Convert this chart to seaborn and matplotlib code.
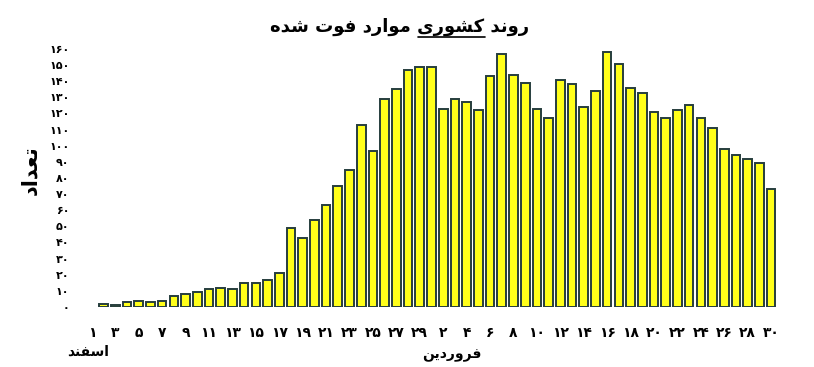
import matplotlib
matplotlib.use("Agg")
import matplotlib.pyplot as plt
import seaborn as sns
import pandas as pd

# ---------------- data ----------------
esfand_days = list(range(1, 30))
esfand_deaths = [0, 2, 1, 3, 4, 3, 4, 7, 8, 9, 11, 12, 11, 15, 15, 17, 21, 49, 43, 54,
                 63, 75, 85, 113, 97, 129, 135, 147, 149]
farvardin_days = list(range(1, 31))
farvardin_deaths = [149, 123, 129, 127, 122, 143, 157, 144, 139, 123, 117, 141, 138, 124,
                    134, 158, 151, 136, 133, 121, 117, 122, 125, 117, 111, 98, 94, 92, 89, 73]
y_ticks = list(range(0, 161, 10))

title_text = "روند کشوری موارد فوت شده"
ylabel_text = "تعداد"
esfand_text = "اسفند"
farvardin_text = "فروردین"

# ---------------- simple Arabic/Persian shaping ----------------
FORMS = {  # isolated, final, initial, medial
    "ا": ("\uFE8D", "\uFE8E", None, None),
    "د": ("\uFEA9", "\uFEAA", None, None),
    "ر": ("\uFEAD", "\uFEAE", None, None),
    "و": ("\uFEED", "\uFEEE", None, None),
    "ن": ("\uFEE5", "\uFEE6", "\uFEE7", "\uFEE8"),
    "ت": ("\uFE95", "\uFE96", "\uFE97", "\uFE98"),
    "ع": ("\uFEC9", "\uFECA", "\uFECB", "\uFECC"),
    "س": ("\uFEB1", "\uFEB2", "\uFEB3", "\uFEB4"),
    "ش": ("\uFEB5", "\uFEB6", "\uFEB7", "\uFEB8"),
    "ف": ("\uFED1", "\uFED2", "\uFED3", "\uFED4"),
    "م": ("\uFEE1", "\uFEE2", "\uFEE3", "\uFEE4"),
    "ه": ("\uFEE9", "\uFEEA", "\uFEEB", "\uFEEC"),
    "ک": ("\uFB8E", "\uFB8F", "\uFB90", "\uFB91"),
    "ی": ("\uFBFC", "\uFBFD", "\uFBFE", "\uFBFF"),
}


def shape(text):
    out = []
    n = len(text)
    for i, ch in enumerate(text):
        if ch not in FORMS:
            out.append(ch)
            continue
        prev = text[i - 1] if i > 0 else None
        nxt = text[i + 1] if i < n - 1 else None
        join_prev = prev in FORMS and FORMS[prev][2] is not None
        join_next = FORMS[ch][2] is not None and nxt in FORMS
        iso, fin, ini, med = FORMS[ch]
        if join_prev and join_next:
            out.append(med)
        elif join_prev:
            out.append(fin)
        elif join_next:
            out.append(ini)
        else:
            out.append(iso)
    return "".join(out)[::-1]


def fa_num(n):
    return str(n).translate(str.maketrans("0123456789", "۰۱۲۳۴۵۶۷۸۹"))


# ---------------- frame ----------------
cats = [f"E{d}" for d in esfand_days] + [f"F{d}" for d in farvardin_days]
values = esfand_deaths + farvardin_deaths
tick_labels = [fa_num(d) if d % 2 == 1 else "" for d in esfand_days] + \
              [fa_num(d) if d % 2 == 0 else "" for d in farvardin_days]
df = pd.DataFrame({"day": cats, "deaths": values})

sns.set_theme(style="white")
plt.rcParams["font.family"] = ["DejaVu Sans"]
plt.rcParams["text.color"] = "black"
plt.rcParams["xtick.color"] = "black"
plt.rcParams["ytick.color"] = "black"

fig = plt.figure(figsize=(8.14, 3.67), dpi=100)
ax = fig.add_axes([0.1057, 0.1635, 0.8488, 0.703])

sns.barplot(data=df, x="day", y="deaths", order=cats, color="#FFFF1A",
            edgecolor="#263d3d", linewidth=1.4, width=0.74, saturation=1, ax=ax)
for p in ax.patches:
    if p.get_height() == 0:
        p.set_visible(False)

ax.set_xlim(-0.5, len(cats) - 0.5)
ax.set_ylim(0, 160)
ax.set_yticks(y_ticks)
ax.set_yticklabels([fa_num(v) for v in y_ticks], fontsize=8, fontweight="bold")
ax.set_xticks(range(len(cats)))
ax.set_xticklabels(tick_labels, fontsize=10, fontweight="bold")
ax.tick_params(axis="both", length=0, pad=14)
ax.tick_params(axis="y", pad=12)
for s in ax.spines.values():
    s.set_visible(False)
ax.set_xlabel("")
ax.set_ylabel("")

# y label
fig.text(30 / 814, 1 - 170 / 367, shape(ylabel_text), rotation=90, ha="center", va="center",
         fontsize=15, fontweight="bold")

# month labels
fig.text(88 / 814, 1 - 352 / 367, shape(esfand_text), ha="center", va="center",
         fontsize=10, fontweight="bold")
fig.text(452 / 814, 1 - 355 / 367, shape(farvardin_text), ha="center", va="center",
         fontsize=10, fontweight="bold")

# title with underlined word
TFS = 13
title_shaped = shape(title_text)
t = fig.text(400 / 814, 1 - 27 / 367, title_shaped, ha="center", va="center",
             fontsize=TFS, fontweight="bold")
fig.canvas.draw()
r = fig.canvas.get_renderer()
bb = t.get_window_extent(r)


def width_of(s):
    tmp = fig.text(0, 0, s, fontsize=TFS, fontweight="bold")
    w = tmp.get_window_extent(r).width
    tmp.remove()
    return w


w_right = width_of(shape(" روند"))
w_word = width_of(shape("کشوری"))
x1 = bb.x1 - w_right
x0 = x1 - w_word
fig_w, fig_h = fig.bbox.width, fig.bbox.height
yline = bb.y0 - 1
fig.add_artist(plt.Line2D([x0 / fig_w, x1 / fig_w], [yline / fig_h, yline / fig_h],
                          color="black", linewidth=1.2))

fig.savefig("out.png", dpi=100)
